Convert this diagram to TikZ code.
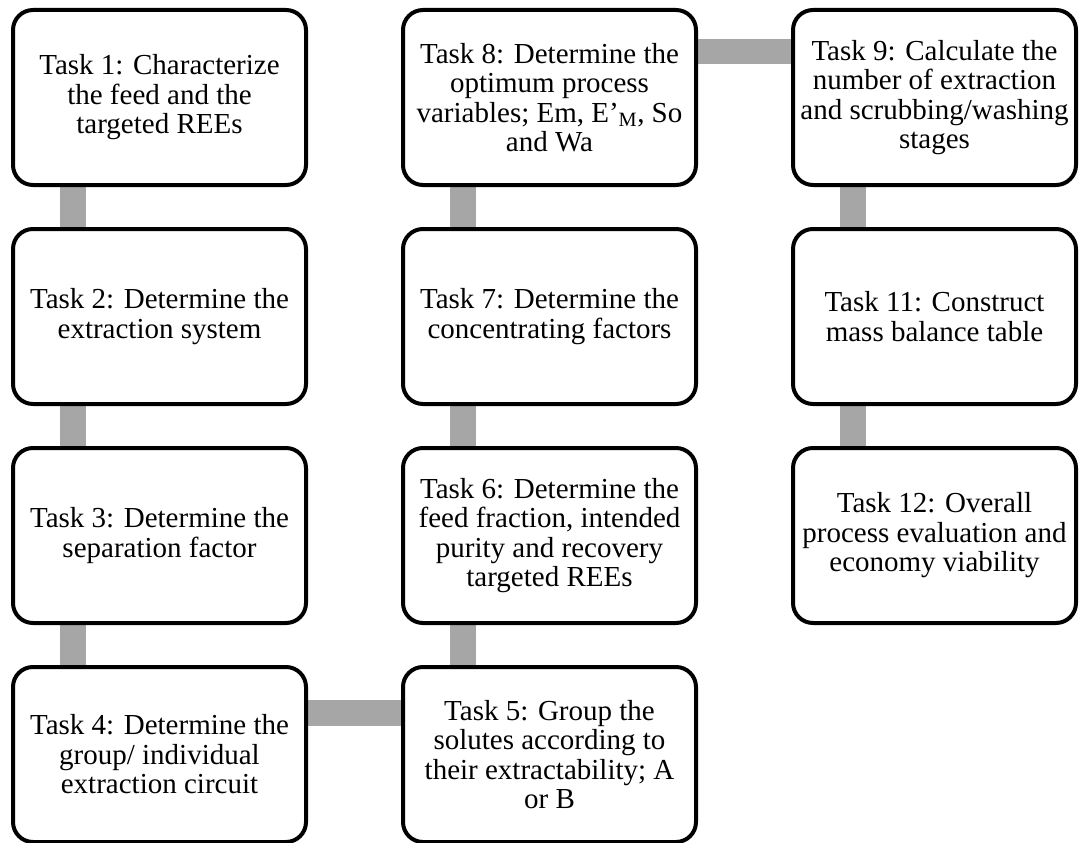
\documentclass[tikz,border=0pt]{standalone}
\usepackage{fontspec}
\setmainfont{Liberation Serif}
\usetikzlibrary{positioning, backgrounds}
\definecolor{linkgray}{RGB}{166,166,166}

\begin{document}
\begin{tikzpicture} [
    every node/.style={draw, rounded corners=20pt, line width=4pt, outer sep=0pt,
      minimum width=293pt, minimum height=175pt, inner sep=2pt, align=center,
      font=\fontsize{29}{29.5}\selectfont},
    narrow/.style={minimum width=283pt},
    link/.style={draw=linkgray, line width=26pt},
    node distance=44pt and 97pt
  ]

  \useasboundingbox (0,0) rectangle (1079pt,-843pt);

  % Nodes and Positions
  % COLUMN 1 (LEFT)
  \node (TASK1) [anchor=north west] at (13pt,-10pt) {Task 1: Characterize\\the feed and the\\targeted REEs};
  \node (TASK2) [below=of TASK1] {Task 2: Determine the\\extraction system};
  \node (TASK3) [below=of TASK2] {Task 3: Determine the\\separation factor};
  \node (TASK4) [below=of TASK3] {Task 4: Determine the\\group/ individual\\extraction circuit};

  % COLUMN 2 (MIDDLE)
  \node (TASK5) [right=of TASK4] {Task 5: Group the\\solutes according to\\their extractability; A\\or B};
  \node (TASK6) [above=of TASK5] {Task 6: Determine the\\feed fraction, intended\\purity and recovery\\targeted REEs};
  \node (TASK7) [above=of TASK6] {Task 7: Determine the\\concentrating factors};
  \node (TASK8) [above=of TASK7] {Task 8: Determine the\\optimum process\\variables; Em, E’\textsubscript{M}, So\\and Wa};

  % COLUMN 3 (RIGHT)
  \node (TASK9) [narrow, right=of TASK8] {Task 9: Calculate the\\number of extraction\\and scrubbing/washing\\stages};
  \node (TASK11) [narrow, below=of TASK9] {Task 11: Construct\\mass balance table};
  \node (TASK12) [narrow, below=of TASK11] {Task 12: Overall\\process evaluation and\\economy viability};

  % Edges
  \begin{scope}[on background layer]
    \path[link] ([xshift=59.5pt]TASK1.south west) -- ([xshift=59.5pt]TASK2.north west);
    \path[link] ([xshift=59.5pt]TASK2.south west) -- ([xshift=59.5pt]TASK3.north west);
    \path[link] ([xshift=59.5pt]TASK3.south west) -- ([xshift=59.5pt]TASK4.north west);

    \path[link] ([yshift=-45.5pt]TASK4.north east) -- ([yshift=-45.5pt]TASK5.north west);

    \path[link] ([xshift=59.5pt]TASK5.north west) -- ([xshift=59.5pt]TASK6.south west);
    \path[link] ([xshift=59.5pt]TASK6.north west) -- ([xshift=59.5pt]TASK7.south west);
    \path[link] ([xshift=59.5pt]TASK7.north west) -- ([xshift=59.5pt]TASK8.south west);

    \path[link, line width=25pt] ([yshift=-41.5pt]TASK8.north east) -- ([yshift=-41.5pt]TASK9.north west);

    \path[link] ([xshift=59.5pt]TASK9.south west) -- ([xshift=59.5pt]TASK11.north west);
    \path[link] ([xshift=59.5pt]TASK11.south west) -- ([xshift=59.5pt]TASK12.north west);
  \end{scope}

\end{tikzpicture}
\end{document}
